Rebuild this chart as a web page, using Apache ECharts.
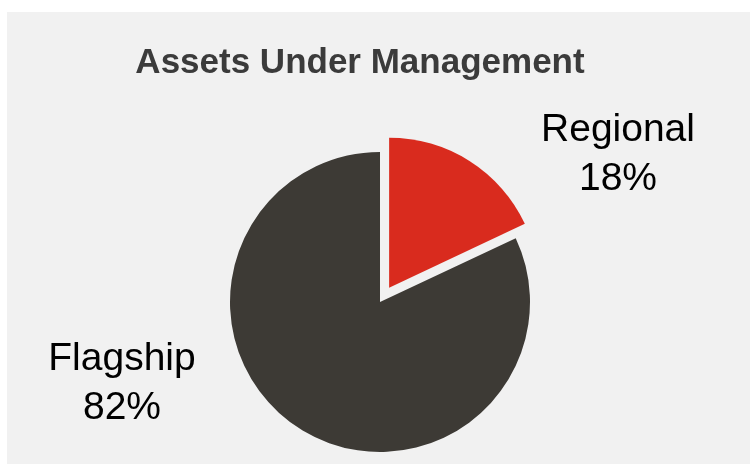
<!DOCTYPE html>
<html>
<head>
<meta charset="utf-8">
<script src="https://cdn.jsdelivr.net/npm/echarts@6/dist/echarts.min.js"></script>
<style>
  html, body { margin: 0; padding: 0; background: #ffffff; }
  #chart { width: 750px; height: 464px; }
</style>
</head>
<body>
<div id="chart"></div>
<script>
// veriler
const kategoriler = ["Regional", "Flagship"];
const paylar = [18, 82];
const renkler = ["#d92b1e", "#3d3a35"];

// etiket yerleri (grafikteki metin kutularının ortası)
const etiketYerleri = [[618, 155], [122, 384]];

let myChart = echarts.init(document.getElementById("chart"));

let dilimler = [];
let etiketler = [];
for (let i = 0; i < kategoriler.length; i++) {
  dilimler.push({
    name: kategoriler[i],
    value: paylar[i],
    selected: i == 0, // Regional dilimi dışarı çekik
    itemStyle: { color: renkler[i] },
  });
  etiketler.push({ name: kategoriler[i], value: paylar[i] });
}

let ortak = {
  type: "pie",
  center: [380, 302],
  radius: [0, 150],
  startAngle: 90,
  clockwise: true,
  silent: true,
  emphasis: { disabled: true },
};

let option = {
  animation: false,
  backgroundColor: "#ffffff",
  graphic: [
    {
      type: "rect",
      z: -10,
      silent: true,
      shape: { x: 7, y: 12, width: 750, height: 460 },
      style: { fill: "#f1f1f1" },
    },
  ],
  title: {
    text: "Assets Under Management",
    left: 355,
    top: 39,
    textAlign: "center",
    textStyle: {
      fontFamily: "Liberation Sans",
      fontWeight: "bold",
      fontSize: 35,
      lineHeight: 38,
      color: "#3b3b3b",
    },
  },
  series: [
    // dilimler
    Object.assign({}, ortak, {
      selectedMode: "single",
      selectedOffset: 17,
      label: { show: false },
      labelLine: { show: false },
      data: dilimler,
    }),
    // sadece etiketler (görünmez pasta)
    Object.assign({}, ortak, {
      itemStyle: { color: "rgba(0,0,0,0)" },
      label: {
        show: true,
        position: "outside",
        formatter: "{b}\n{c}%",
        fontFamily: "Liberation Sans",
        fontSize: 39,
        lineHeight: 49,
        color: "#000000",
      },
      labelLine: { show: false },
      labelLayout: function (params) {
        let yer = etiketYerleri[params.dataIndex];
        return {
          x: yer[0],
          y: yer[1],
          align: "center",
          verticalAlign: "middle",
          moveOverlap: false,
        };
      },
      data: etiketler,
    }),
  ],
};

myChart.setOption(option);
</script>
</body>
</html>
